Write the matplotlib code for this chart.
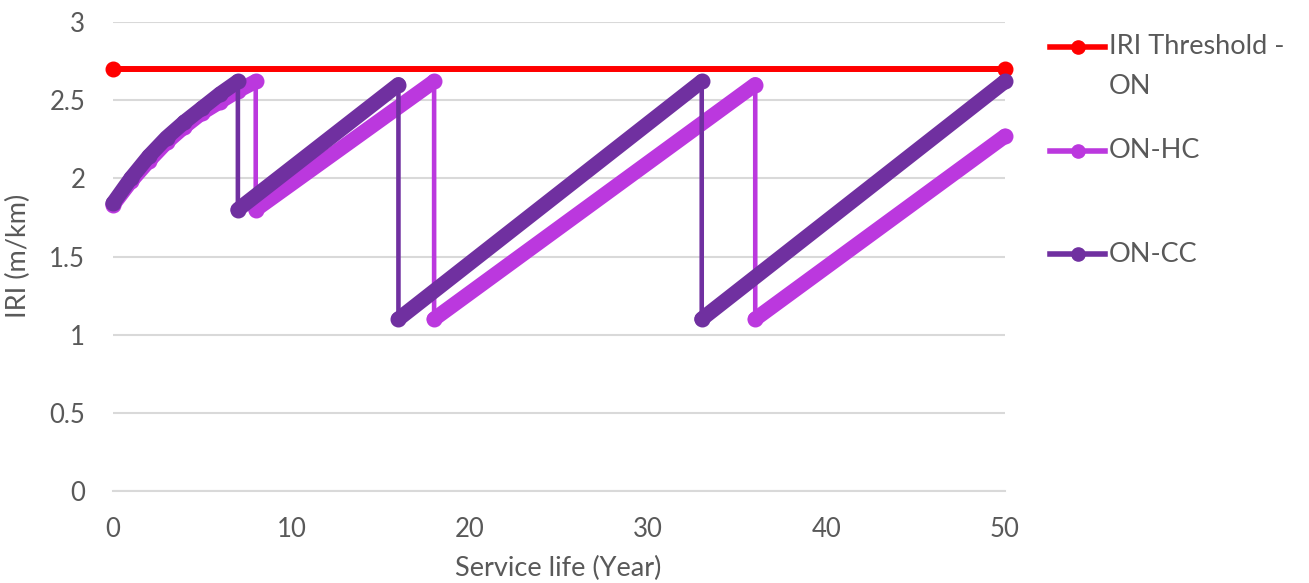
import matplotlib
matplotlib.use("Agg")
import matplotlib.pyplot as plt
from matplotlib.lines import Line2D

# IRI over service life for the two maintenance strategies
years_threshold = [0, 50]
iri_threshold = [2.7, 2.7]

years_hc = [0, 1, 2, 3, 4, 5, 6, 7, 8, 8, 18, 18, 36, 36, 50]
iri_hc = [1.83, 1.98, 2.11, 2.23, 2.33, 2.42, 2.49, 2.56, 2.62,
          1.80, 2.62, 1.10, 2.60, 1.10, 2.27]

years_cc = [0, 1, 2, 3, 4, 5, 6, 7, 7, 16, 16, 33, 33, 50]
iri_cc = [1.84, 2.00, 2.14, 2.26, 2.36, 2.45, 2.54, 2.62,
          1.80, 2.60, 1.10, 2.62, 1.10, 2.62]

x_ticks = [0, 10, 20, 30, 40, 50]
y_ticks = [0, 0.5, 1, 1.5, 2, 2.5, 3]

RED = "#FF0000"
HC_COLOR = "#BB38DE"
CC_COLOR = "#7030A0"
TEXT = "#595959"
GRID = "#D9D9D9"
FONT = "Lato"
TICK_SIZE = 18.5
LABEL_SIZE = 19.5

W, H = 1309, 583
fig = plt.figure(figsize=(W / 100, H / 100), dpi=100)
ax = fig.add_axes([113 / W, 1 - 491 / H, (1005 - 113) / W, (491 - 22) / H])


def draw_series(x, y, color):
    # thin connector through all points (includes the vertical treatment drops)
    ax.plot(x, y, color=color, lw=3.3, solid_capstyle="round", zorder=3)
    # heavy band over each deterioration run between treatments
    start = 0
    for i in range(1, len(x) + 1):
        if i == len(x) or x[i] == x[i - 1]:
            ax.plot(x[start:i], y[start:i], color=color, lw=10.8,
                    solid_capstyle="round", solid_joinstyle="round", zorder=3)
            start = i
    ax.plot(x, y, linestyle="none", marker="o", ms=10.5, color=color, zorder=3)


ax.plot(years_threshold, iri_threshold, color=RED, lw=4.3, marker="o",
        ms=10.5, zorder=3)
draw_series(years_hc, iri_hc, HC_COLOR)
draw_series(years_cc, iri_cc, CC_COLOR)

ax.set_xlim(0, 50)
ax.set_ylim(0, 3)
ax.set_xticks(x_ticks)
ax.set_yticks(y_ticks)
ax.set_xticklabels([str(v) for v in x_ticks])
ax.set_yticklabels([f"{v:g}" for v in y_ticks])
ax.tick_params(length=0, labelsize=TICK_SIZE, labelcolor=TEXT)
ax.tick_params(axis="x", pad=19)
ax.tick_params(axis="y", pad=20)
for lbl in ax.get_xticklabels() + ax.get_yticklabels():
    lbl.set_fontfamily(FONT)

ax.grid(axis="y", color=GRID, lw=1.5)
ax.set_axisbelow(True)
for side in ("top", "right", "left"):
    ax.spines[side].set_visible(False)
ax.spines["bottom"].set_color(GRID)
ax.spines["bottom"].set_linewidth(1.5)
ax.spines["bottom"].set_zorder(0.5)
for ln in ax.lines:
    ln.set_clip_on(False)

fig.text(558 / W, 1 - 568 / H, "Service life (Year)", ha="center", va="center",
         fontsize=LABEL_SIZE, color=TEXT, family=FONT)
fig.text(18 / W, 1 - 256 / H, "IRI (m/km)", ha="center", va="center",
         rotation=90, fontsize=LABEL_SIZE, color=TEXT, family=FONT)

# legend drawn in figure coordinates
legend_rows = [
    (47, RED, ["IRI Threshold -", "ON"]),
    (151, HC_COLOR, ["ON-HC"]),
    (254, CC_COLOR, ["ON-CC"]),
]
for ypx, color, lines in legend_rows:
    yf = 1 - ypx / H
    fig.add_artist(Line2D([1050 / W, 1105 / W], [yf, yf], color=color, lw=4.0,
                          transform=fig.transFigure))
    fig.add_artist(Line2D([1078 / W], [yf], color=color, marker="o", ms=9.5,
                          transform=fig.transFigure))
    for k, txt in enumerate(lines):
        fig.text(1109 / W, 1 - (ypx + 40 * k) / H, txt, ha="left", va="center",
                 fontsize=LABEL_SIZE, color=TEXT, family=FONT)

fig.savefig("out.png", dpi=100, facecolor="white")
